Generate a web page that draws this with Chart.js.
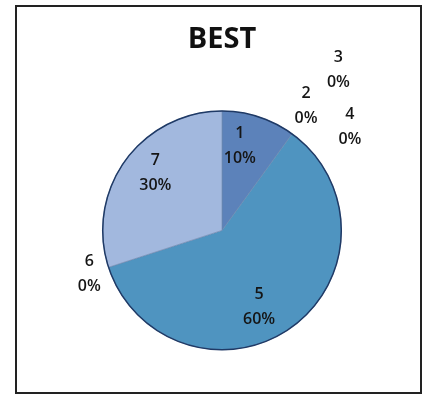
<!DOCTYPE html>
<html>
<head>
<meta charset="utf-8">
<script src="https://cdn.jsdelivr.net/npm/chart.js@4.4.1/dist/chart.umd.min.js"></script>
<style>
  html, body { margin: 0; padding: 0; background: #ffffff; }
  #wrap { position: relative; width: 434px; height: 401px; }
  #frame { position: absolute; left: 15px; top: 5px; width: 407px; height: 389px; border: 2px solid #222; box-sizing: border-box; pointer-events: none; }
  canvas { position: absolute; left: 0; top: 0; }
</style>
</head>
<body>
<div id="wrap">
  <canvas id="c" width="434" height="401"></canvas>
  <div id="frame"></div>
</div>
<script>
const chartTitle = "BEST";
const categories = ["1", "2", "3", "4", "5", "6", "7"];
const values = [10, 0, 0, 0, 60, 0, 30];
const sliceColors = ["#5c82ba", "#5a8fc4", "#6a9fcc", "#4f7fb8", "#4f94c0", "#8aaad4", "#a2b8de"];

// label placement: radial factor and angle nudge (deg) per slice
const labelRadial = [0.72, 1.26, 1.66, 1.38, 0.71, 1.17, 0.74];
const labelNudge = [-6, -2, 0, 15, 10, 0, 5];

const pieLabels = {
  id: 'pieLabels',
  afterDatasetsDraw(chart) {
    const ctx = chart.ctx;
    const meta = chart.getDatasetMeta(0);
    const total = values.reduce((a, b) => a + b, 0);
    ctx.save();
    // outer outline
    const a0 = meta.data[0];
    ctx.beginPath();
    ctx.arc(a0.x, a0.y, a0.outerRadius, 0, Math.PI * 2);
    ctx.strokeStyle = '#1f3a66';
    ctx.lineWidth = 1.5;
    ctx.stroke();
    ctx.fillStyle = '#151515';
    ctx.font = '600 16px "Open Sans", "Liberation Sans", sans-serif';
    ctx.textAlign = 'center';
    ctx.textBaseline = 'middle';
    meta.data.forEach((arc, i) => {
      const mid = (arc.startAngle + arc.endAngle) / 2 + labelNudge[i] * Math.PI / 180;
      const r = arc.outerRadius * labelRadial[i];
      const x = arc.x + Math.cos(mid) * r;
      const y = arc.y + Math.sin(mid) * r;
      const pct = Math.round(values[i] / total * 100) + '%';
      ctx.fillText(categories[i], x, y - 12.5);
      ctx.fillText(pct, x, y + 12.5);
    });
    ctx.restore();
  }
};

new Chart(document.getElementById('c'), {
  type: 'pie',
  data: {
    labels: categories,
    datasets: [{
      data: values,
      backgroundColor: sliceColors,
      borderColor: values.map(v => v === 0 ? 'rgba(0,0,0,0)' : '#6d86ad'),
      borderWidth: values.map(v => v === 0 ? 0 : 0.6)
    }]
  },
  options: {
    responsive: false,
    animation: false,
    layout: { padding: { top: 22, bottom: 51, left: 20, right: 10 } },
    plugins: {
      legend: { display: false },
      tooltip: { enabled: false },
      title: {
        display: true,
        text: chartTitle,
        color: '#111',
        font: { size: 29, weight: 'bold', family: '"Open Sans", "Liberation Sans", sans-serif' },
        padding: { top: 0, bottom: 54 }
      }
    }
  },
  plugins: [pieLabels]
});
</script>
</body>
</html>
